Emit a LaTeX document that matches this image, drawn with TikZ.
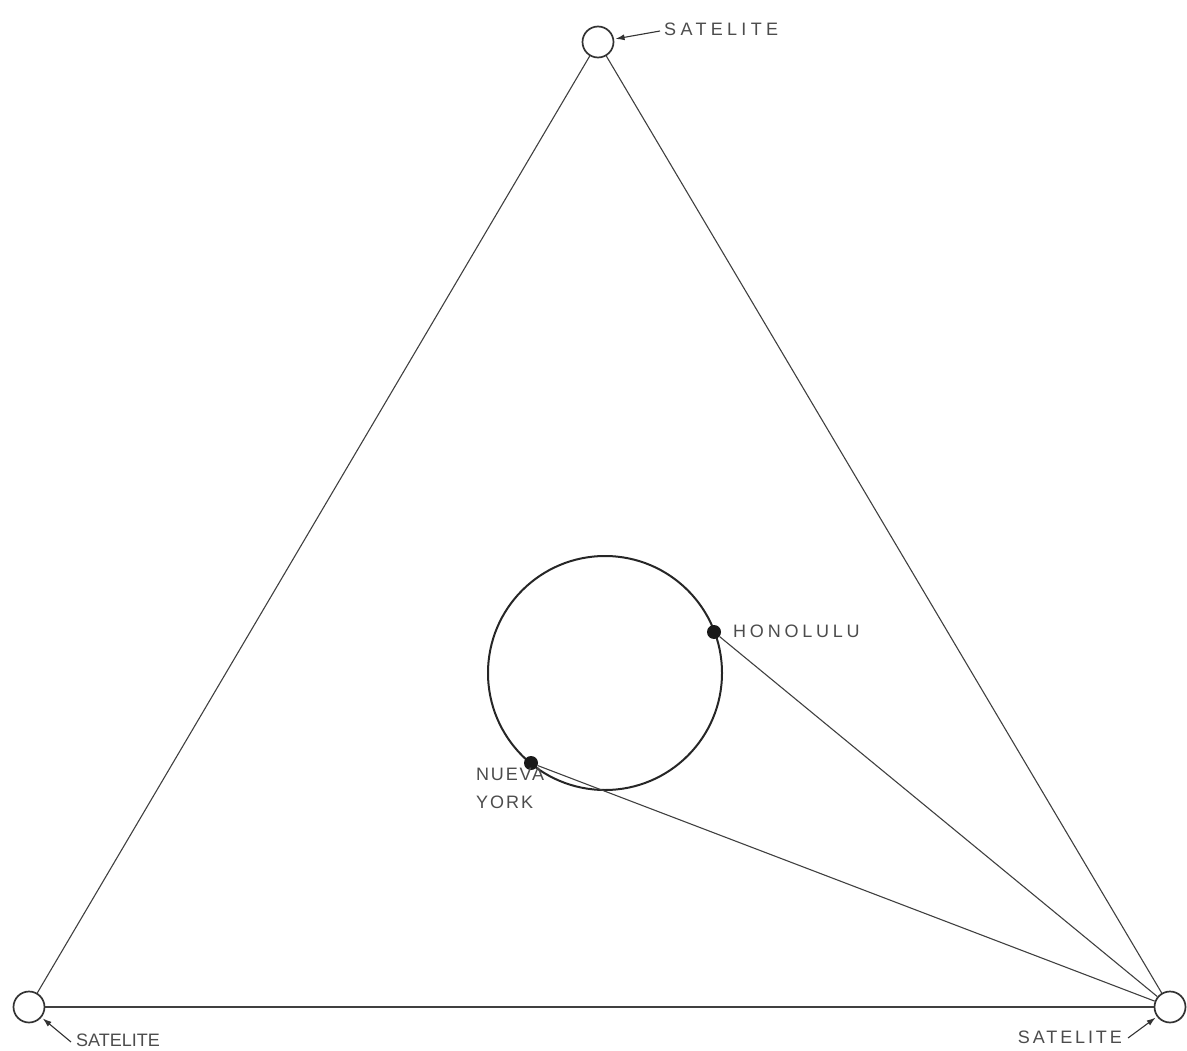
\documentclass[tikz,border=0pt]{standalone}
\usepackage{fontspec}
\setmainfont{Liberation Sans}
\usetikzlibrary{arrows.meta}
\begin{document}
\begin{tikzpicture}[x=1pt,y=-1pt,
  sat/.style={circle,draw=black!80,line width=1.7pt,minimum size=31pt,inner sep=0pt},
  city/.style={circle,fill=black!90,minimum size=14pt,inner sep=0pt},
  orbit/.style={circle,draw=black!85,line width=2pt,minimum size=234pt,inner sep=0pt},
  edge/.style={draw=black!75,line width=1.1pt},
  lbl/.style={font=\fontsize{18}{18}\selectfont,text=black!70,inner sep=0pt,anchor=west},
  ptr/.style={draw=black!80,line width=1.1pt,shorten >=1.5pt,-{Latex[length=9pt,width=6pt]}}]
\useasboundingbox (0,0) rectangle (1187,1051);
% satellites
\node[sat] (top) at (598,42) {};
\node[sat] (bl) at (29,1007) {};
\node[sat] (br) at (1170,1007) {};
% orbit and cities
\node[orbit] (orb) at (605,673) {};
\node[city] (hon) at (714,632) {};
\node[city] (ny) at (531,763) {};
% triangle
\draw[edge] (top) -- (bl);
\draw[edge] (bl) -- (br);
\draw[edge] (br) -- (top);
% links
\draw[edge] (hon) -- (br);
\draw[edge] (ny) -- (br);
% labels
\node[lbl] (tsl) at (664,29) {\addfontfeatures{LetterSpace=24}SATELITE};
\node[lbl] (blsl) at (76,1040) {SATELITE};
\node[lbl,anchor=east] (brsl) at (1122,1037) {\addfontfeatures{LetterSpace=16}SATELITE};
\node[lbl] (honl) at (733,631) {\addfontfeatures{LetterSpace=21}HONOLULU};
\node[lbl] (nyl1) at (476,774) {\addfontfeatures{LetterSpace=10}NUEVA};
\node[lbl] (nyl2) at (476,802) {\addfontfeatures{LetterSpace=11}YORK};
% pointers
\coordinate (ta) at (660,31);
\coordinate (bla) at (71,1042);
\coordinate (bra) at (1128,1038);
\draw[ptr] (ta) -- (top);
\draw[ptr] (bla) -- (bl);
\draw[ptr] (bra) -- (br);
\end{tikzpicture}
\end{document}
